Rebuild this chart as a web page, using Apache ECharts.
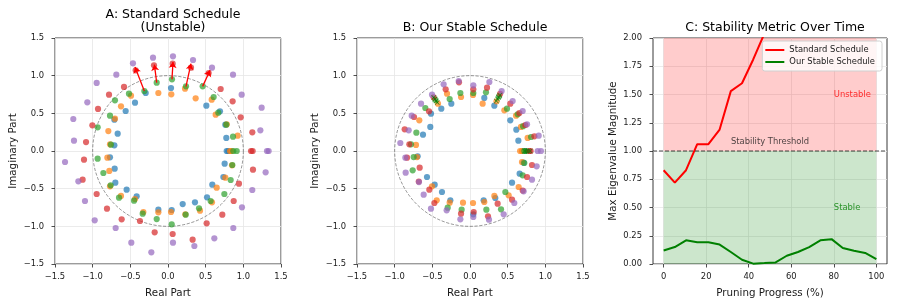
<!DOCTYPE html>
<html><head><meta charset="utf-8">
<script src="https://cdn.jsdelivr.net/npm/echarts@6/dist/echarts.min.js"></script>
<style>html,body{margin:0;padding:0;background:#fff}#c{width:897px;height:306px}</style>
</head><body><div id="c"></div>
<script>
// ---------- Panel A: Standard schedule eigenvalues (real, imag) ----------
const aBlue = [[0.040,0.836],[-0.296,0.770],[-0.438,0.642],[-0.562,0.531],[-0.712,0.416],[-0.668,0.230],[-0.712,0.075],[-0.770,-0.084],[-0.708,-0.235],[-0.699,-0.420],[-0.549,-0.513],[-0.416,-0.602],[-0.128,-0.779],[0.049,-0.783],[0.195,-0.704],[0.358,-0.681],[0.518,-0.615],[0.588,-0.447],[0.735,-0.345],[0.752,-0.168],[0.779,0],[0.800,0],[0.774,0.173],[0.761,0.350],[0.690,0.527],[0.509,0.602]];
const aOrange = [[0.044,0.752],[-0.128,0.770],[-0.491,0.735],[0.226,0.827],[0.367,0.699],[-0.624,0.593],[-0.704,0.429],[0.580,0.681],[0.633,0.482],[-0.792,0.265],[0.925,0.204],[-0.770,0.088],[0.823,0],[0.845,0],[-0.805,-0.088],[-0.779,-0.265],[-0.770,-0.469],[-0.624,-0.597],[-0.438,-0.637],[-0.327,-0.810],[-0.128,-0.814],[0.040,-0.810],[0.230,-0.841],[0.425,-0.792],[0.584,-0.681],[0.646,-0.487],[0.761,-0.354],[0.850,-0.190],[0.780,0.355]];
const aGreen = [[0.053,0.951],[-0.150,0.907],[-0.314,0.796],[0.239,0.858],[0.460,0.858],[-0.518,0.761],[-0.704,0.673],[0.606,0.717],[0.668,0.509],[-0.770,0.469],[0.774,0.350],[-0.934,0.314],[0.863,0.190],[-0.757,0.084],[0.867,0],[0.912,0],[-0.934,-0.102],[0.854,-0.186],[-0.858,-0.292],[0.832,-0.385],[-0.761,-0.456],[0.748,-0.571],[-0.650,-0.619],[0.566,-0.664],[-0.451,-0.659],[0.412,-0.761],[-0.336,-0.832],[0.235,-0.845],[-0.150,-0.903],[0.049,-0.973]];
const aRed = [[0.062,1.159],[-0.186,1.137],[-0.429,1.071],[0.305,1.106],[0.540,1.035],[-0.584,0.850],[-0.783,0.748],[0.699,0.823],[0.858,0.659],[-0.929,0.558],[0.965,0.447],[-1.004,0.341],[1.119,0.248],[-1.088,0.119],[1.102,0],[1.124,0],[-1.115,-0.115],[1.128,-0.248],[-1.133,-0.381],[0.942,-0.434],[-0.947,-0.571],[0.872,-0.664],[-0.810,-0.765],[0.721,-0.845],[-0.615,-0.907],[0.513,-0.960],[-0.372,-0.929],[-0.177,-1.080],[0.062,-1.102],[0.327,-1.177]];
const aPurple = [[0.066,1.257],[-0.199,1.239],[-0.465,1.164],[0.332,1.208],[0.584,1.106],[-0.686,1.013],[-0.947,0.903],[0.863,1.013],[0.978,0.748],[-1.071,0.646],[1.243,0.575],[-1.257,0.425],[1.226,0.274],[-1.248,0.137],[1.314,0],[1.336,0],[-1.367,-0.146],[1.296,-0.283],[-1.190,-0.403],[1.119,-0.518],[-1.102,-0.664],[0.982,-0.748],[-0.973,-0.920],[0.867,-1.022],[-0.695,-1.022],[0.615,-1.159],[-0.487,-1.217],[0.066,-1.217],[0.350,-1.261],[-0.221,-1.345]];
const arrowFrom = [[-0.314,0.796],[-0.150,0.907],[0.053,0.951],[0.239,0.858],[0.460,0.858]];
const arrowTo = [[-0.438,1.115],[-0.181,1.146],[0.066,1.181],[0.305,1.159],[0.558,1.071]];

// ---------- Panel B: Stable schedule eigenvalues ----------
const bBlue = [[0.710,0],[0.735,0],[0.642,0.137],[0.615,0.283],[0.535,0.407],[0.323,0.602],[0.190,0.704],[-0.248,0.628],[-0.381,0.562],[-0.518,0.496],[-0.527,0.319],[-0.624,0.217],[-0.695,-0.071],[-0.571,-0.345],[-0.469,-0.447],[-0.372,-0.544],[-0.261,-0.655],[0.044,-0.841],[0.181,-0.655],[0.336,-0.624],[0.558,-0.420],[0.659,-0.301],[0.712,-0.155]];
const bOrange = [[0.690,0],[0.665,0],[0.765,0.173],[0.677,0.319],[0.611,0.469],[0.456,0.540],[0.352,0.660],[0.168,0.628],[0.040,0.745],[-0.119,0.717],[-0.305,0.761],[-0.425,0.628],[-0.673,0.407],[-0.717,0.080],[-0.704,-0.080],[-0.504,-0.469],[-0.442,-0.655],[-0.270,-0.686],[-0.093,-0.686],[0.040,-0.690],[0.190,-0.677],[0.323,-0.597],[0.513,-0.588],[0.646,-0.478],[0.690,-0.146]];
const bGreen = [[0.721,0],[0.745,0],[0.810,0.186],[0.705,0.330],[0.633,0.487],[0.491,0.562],[0.385,0.725],[0.212,0.779],[0.044,0.770],[-0.128,0.770],[-0.270,0.690],[-0.460,0.680],[-0.593,0.571],[-0.712,0.243],[-0.783,0.088],[-0.748,-0.080],[-0.761,-0.257],[-0.296,-0.752],[-0.111,-0.779],[0.217,-0.779],[0.412,-0.774],[0.469,-0.544],[0.699,-0.323],[0.721,-0.159]];
const bRed = [[0.788,0],[0.805,0],[0.854,0.195],[0.735,0.345],[0.655,0.504],[0.535,0.628],[0.400,0.760],[0.226,0.841],[0.044,0.819],[-0.146,0.912],[-0.323,0.819],[-0.482,0.712],[-0.544,0.527],[-0.743,0.451],[-0.867,0.288],[-0.805,0.088],[-0.836,-0.088],[-0.668,-0.221],[-0.680,-0.405],[-0.540,-0.513],[-0.473,-0.690],[-0.119,-0.832],[0.049,-0.810],[0.239,-0.867],[0.367,-0.699],[0.558,-0.646],[0.700,-0.525],[0.757,-0.345],[0.823,-0.186]];
const bPurple = [[0.898,0],[0.942,0],[0.912,0.204],[0.757,0.354],[0.699,0.531],[0.566,0.664],[0.420,0.796],[0.257,0.916],[0.044,0.872],[-0.150,0.929],[-0.350,0.885],[-0.504,0.748],[-0.650,0.628],[-0.774,0.469],[-0.814,0.274],[-0.925,0.106],[-0.858,-0.088],[-0.854,-0.288],[-0.677,-0.412],[-0.615,-0.580],[-0.518,-0.765],[-0.310,-0.788],[-0.128,-0.907],[0.044,-0.876],[0.252,-0.912],[0.447,-0.841],[0.588,-0.690],[0.712,-0.535],[0.823,-0.381],[0.885,-0.204]];
const bMarks = [[-0.480,0.710],[-0.465,0.690],[-0.450,0.665],[-0.435,0.645],[0.350,0.665],[0.365,0.690],[0.380,0.715],[0.395,0.740],[0.725,0],[0.750,0],[0.775,0],[0.800,0]];
const unitCircle = [[0, 0, 1]]; // centre x, centre y, radius

// ---------- Panel C: stability metric ----------
const progress = [0, 5.26, 10.53, 15.79, 21.05, 26.32, 31.58, 36.84, 42.11, 47.37, 52.63, 57.89, 63.16, 68.42, 73.68, 78.95, 84.21, 89.47, 94.74, 100];
const standardMetric = [0.83, 0.72, 0.83, 1.06, 1.06, 1.19, 1.53, 1.60, 1.81, 2.04];
const stableMetric = [0.120, 0.150, 0.210, 0.193, 0.192, 0.172, 0.106, 0.038, 0.003, 0.008, 0.014, 0.073, 0.106, 0.150, 0.210, 0.220, 0.142, 0.117, 0.098, 0.044];
const eigTicks = [-1.5, -1.0, -0.5, 0.0, 0.5, 1.0, 1.5];
const progressTicks = [0, 20, 40, 60, 80, 100];
const progressRange = [-5, 105];
const threshold = 1.0;
const annotations = [[80, 1.5, 'Unstable', '#ff0000', 'left'], [80, 0.5, 'Stable', '#008000', 'left'], [50, 1.077, 'Stability Threshold', '#1a1a1a', 'center']];

const FONT = 'DejaVu Sans';
const TXT = '#1a1a1a';
const C = {blue:'#1f77b4', orange:'#ff7f0e', green:'#2ca02c', red:'#d62728', purple:'#9467bd'};
const fmt1 = v => v.toFixed(1).replace('-', '\u2212');

function eigX(idx) {
  return {type:'value', gridIndex:idx, min:eigTicks[0], max:eigTicks[eigTicks.length-1], interval:0.5,
    name:'Real Part', nameLocation:'middle', nameGap:24,
    nameTextStyle:{fontSize:10.3, color:TXT, fontFamily:FONT},
    axisLine:{show:false, onZero:false}, axisTick:{show:true, length:3.5, lineStyle:{color:'#222', width:0.8}},
    axisLabel:{formatter:fmt1, fontSize:8.4, color:TXT, fontFamily:FONT, margin:9},
    splitLine:{show:true, lineStyle:{color:'#e6e6e6', width:0.8}}};
}
function eigY(idx) {
  return {type:'value', gridIndex:idx, min:eigTicks[0], max:eigTicks[eigTicks.length-1], interval:0.5,
    name:'Imaginary Part', nameLocation:'middle', nameGap:37, nameRotate:90,
    nameTextStyle:{fontSize:10.3, color:TXT, fontFamily:FONT},
    axisLine:{show:false, onZero:false}, axisTick:{show:true, length:3.5, lineStyle:{color:'#222', width:0.8}},
    axisLabel:{formatter:fmt1, fontSize:8.4, color:TXT, fontFamily:FONT, margin:11},
    splitLine:{show:true, lineStyle:{color:'#e6e6e6', width:0.8}}};
}
function circleSeries(idx) {
  return {type:'custom', xAxisIndex:idx, yAxisIndex:idx, data:unitCircle, encode:{x:0, y:1}, silent:true, z:1,
    renderItem:(params, api) => {
      const c = api.coord([api.value(0), api.value(1)]);
      const e = api.coord([api.value(0) + api.value(2), api.value(1)]);
      return {type:'circle', shape:{cx:c[0], cy:c[1], r:e[0]-c[0]},
        style:{fill:'none', stroke:'rgba(0,0,0,0.45)', lineWidth:0.9, lineDash:[3.2,1.6]}};
    }};
}
function dots(idx, data, color) {
  return {type:'scatter', xAxisIndex:idx, yAxisIndex:idx, data:data, symbolSize:6.2, silent:true, z:2,
    itemStyle:{color:color, opacity:0.7}};
}

const series = [
  circleSeries(0),
  dots(0, aBlue, C.blue), dots(0, aOrange, C.orange), dots(0, aGreen, C.green), dots(0, aRed, C.red), dots(0, aPurple, C.purple),
  {type:'lines', coordinateSystem:'cartesian2d', xAxisIndex:0, yAxisIndex:0, silent:true, z:5,
    symbol:['none','arrow'], symbolSize:6, lineStyle:{color:'#ff0000', width:1.3, opacity:1},
    data: arrowFrom.map((s,i) => ({coords:[s, arrowTo[i]]}))},
  circleSeries(1),
  dots(1, bBlue, C.blue), dots(1, bOrange, C.orange), dots(1, bGreen, C.green), dots(1, bRed, C.red), dots(1, bPurple, C.purple),
  {type:'scatter', xAxisIndex:1, yAxisIndex:1, data:bMarks, silent:true, z:4, symbolSize:5,
    symbol:'path://M0,1L1,0L5,4L9,0L10,1L6,5L10,9L9,10L5,6L1,10L0,9L4,5Z', itemStyle:{color:'#007a00'}},
  {name:'bands', type:'line', xAxisIndex:2, yAxisIndex:2, data:[[progress[0], 0]], symbol:'none', showSymbol:false,
    lineStyle:{opacity:0}, silent:true, z:1,
    markArea:{silent:true, data:[
      [{coord:[progress[0], threshold], itemStyle:{color:'rgba(255,0,0,0.2)'}}, {coord:[progress[progress.length-1], 2]}],
      [{coord:[progress[0], 0], itemStyle:{color:'rgba(0,128,0,0.2)'}}, {coord:[progress[progress.length-1], threshold]}]
    ]}},
  {name:'Our Stable Schedule', type:'line', xAxisIndex:2, yAxisIndex:2, z:3,
    data: progress.map((x,i) => [x, stableMetric[i]]), symbol:'none', showSymbol:false, color:'#008000',
    lineStyle:{color:'#008000', width:2}},
  {name:'Standard Schedule', type:'line', xAxisIndex:2, yAxisIndex:2, z:3, clip:true,
    data: standardMetric.map((v,i) => [progress[i], v]), symbol:'none', showSymbol:false, color:'#ff0000',
    lineStyle:{color:'#ff0000', width:2}},
  {name:'thr', type:'line', xAxisIndex:2, yAxisIndex:2, silent:true, z:4, symbol:'none', showSymbol:false,
    data: progressRange.map(x => [x, threshold]),
    lineStyle:{color:'rgba(0,0,0,0.7)', type:[4,2], width:1.2}},
  {type:'scatter', xAxisIndex:2, yAxisIndex:2, silent:true, z:6, symbolSize:1, itemStyle:{color:'rgba(0,0,0,0)'},
    data: annotations.map(d => ({value:[d[0], d[1]], name:d[2], label:{color:d[3], align:d[4]}})),
    label:{show:true, position:'inside', verticalAlign:'middle', fontSize:8.4, fontFamily:FONT,
      formatter:p => p.name}}
];

const option = {
  backgroundColor:'#ffffff',
  animation:false,
  textStyle:{fontFamily:FONT},
  title:[
    {text:'A: Standard Schedule\n(Unstable)', left:168, top:2.6, textAlign:'center',
      textStyle:{fontSize:12.5, fontWeight:'normal', color:'#000', fontFamily:FONT, lineHeight:13.4}},
    {text:'B: Our Stable Schedule', left:470, top:16, textAlign:'center',
      textStyle:{fontSize:12.5, fontWeight:'normal', color:'#000', fontFamily:FONT, lineHeight:13.4}},
    {text:'C: Stability Metric Over Time', left:770, top:16, textAlign:'center',
      textStyle:{fontSize:12.5, fontWeight:'normal', color:'#000', fontFamily:FONT, lineHeight:13.4}}
  ],
  legend:{data:['Standard Schedule','Our Stable Schedule'], orient:'vertical', right:15, top:41,
    icon:'rect', itemWidth:19, itemHeight:2, itemGap:2, padding:[4,7,4,3],
    backgroundColor:'rgba(255,255,255,0.8)', borderColor:'#d0d0d0', borderWidth:1, borderRadius:2.5,
    textStyle:{fontSize:8.4, color:TXT, fontFamily:FONT, lineHeight:10}},
  grid:[
    {left:55, top:38, width:226, height:226, show:true, borderColor:'#222', borderWidth:0.9, backgroundColor:'transparent'},
    {left:357, top:38, width:226, height:226, show:true, borderColor:'#222', borderWidth:0.9, backgroundColor:'transparent'},
    {left:653, top:38, width:234, height:226, show:true, borderColor:'#222', borderWidth:0.9, backgroundColor:'transparent'}
  ],
  xAxis:[eigX(0), eigX(1),
    {type:'value', gridIndex:2, min:progressRange[0], max:progressRange[1],
      name:'Pruning Progress (%)', nameLocation:'middle', nameGap:24,
      nameTextStyle:{fontSize:10.3, color:TXT, fontFamily:FONT},
      axisLine:{show:false, onZero:false}, axisTick:{show:true, length:3.5, customValues:progressTicks, lineStyle:{color:'#222', width:0.8}},
      axisLabel:{fontSize:8.4, color:TXT, fontFamily:FONT, margin:9, customValues:progressTicks},
      splitLine:{show:true, lineStyle:{color:'#e6e6e6', width:0.8}}}
  ],
  yAxis:[eigY(0), eigY(1),
    {type:'value', gridIndex:2, min:0, max:2, interval:0.25,
      name:'Max Eigenvalue Magnitude', nameLocation:'middle', nameGap:35, nameRotate:90,
      nameTextStyle:{fontSize:10.3, color:TXT, fontFamily:FONT},
      axisLine:{show:false, onZero:false}, axisTick:{show:true, length:3.5, lineStyle:{color:'#222', width:0.8}},
      axisLabel:{formatter:v => v.toFixed(2), fontSize:8.4, color:TXT, fontFamily:FONT, margin:11},
      splitLine:{show:true, lineStyle:{color:'#e6e6e6', width:0.8}}}
  ],
  series:series
};
const chart = echarts.init(document.getElementById('c'), null, {renderer:'canvas'});
chart.setOption(option);
</script></body></html>
